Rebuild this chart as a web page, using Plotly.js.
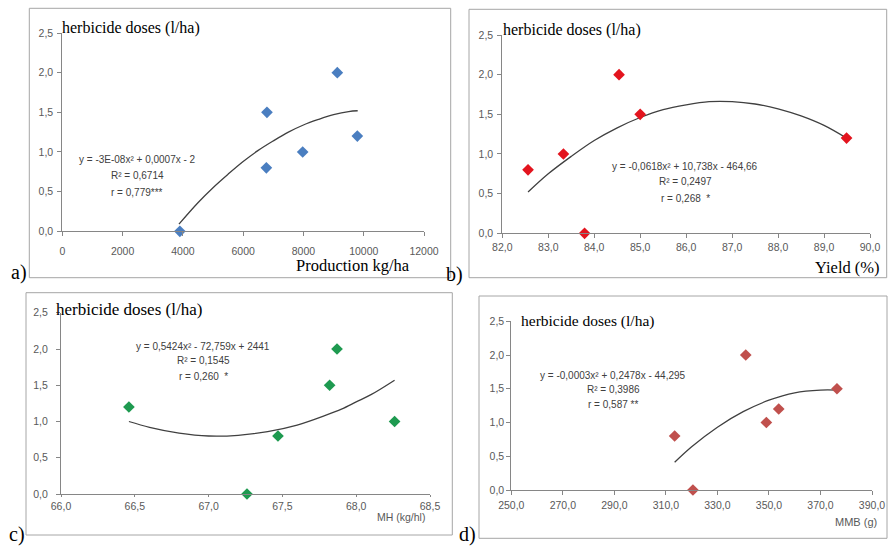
<!DOCTYPE html>
<html>
<head>
<meta charset="utf-8">
<script src="https://cdn.plot.ly/plotly-3.0.1.min.js"></script>
<style>html,body{margin:0;padding:0;background:#fff;}#chart{width:888px;height:547px;}</style>
</head>
<body>
<div id="chart"></div>
<script>
// ---- data ----
const aX = [3900, 6790, 6770, 7975, 9124, 9788];
const aY = [0, 1.5, 0.8, 1.0, 2.0, 1.2];
const aFitX = [3870, 4500, 5000, 5500, 6000, 6500, 7000, 7500, 8000, 8500, 9000, 9500, 9800];
const aFitY = [0.09, 0.36, 0.55, 0.72, 0.88, 1.02, 1.14, 1.25, 1.34, 1.41, 1.47, 1.51, 1.52];

const bX = [82.56, 83.33, 83.79, 84.54, 85.0, 89.49];
const bY = [0.8, 1.0, 0, 2.0, 1.5, 1.2];
const bFitX = [82.56, 83, 83.5, 84, 84.5, 85, 85.5, 86, 86.5, 87, 87.5, 88, 88.5, 89, 89.49];
const bFitY = [0.52, 0.75, 0.97, 1.17, 1.33, 1.46, 1.56, 1.62, 1.66, 1.66, 1.63, 1.57, 1.48, 1.36, 1.20];

const cX = [66.46, 67.26, 67.47, 67.82, 67.87, 68.26];
const cY = [1.2, 0, 0.8, 1.5, 2.0, 1.0];
const cFitX = [66.46, 66.6, 66.8, 67.0, 67.2, 67.4, 67.6, 67.8, 67.9, 68.0, 68.1, 68.26];
const cFitY = [1.00, 0.92, 0.84, 0.80, 0.81, 0.86, 0.95, 1.09, 1.17, 1.27, 1.37, 1.57];

const dX = [313.4, 320.5, 341.0, 349.0, 353.8, 376.4];
const dY = [0.8, 0, 2.0, 1.0, 1.2, 1.5];
const dFitX = [313.4, 320, 330, 340, 350, 360, 370, 376.4];
const dFitY = [0.41, 0.64, 0.93, 1.16, 1.33, 1.44, 1.48, 1.48];

const yTitle = "herbicide doses (l/ha)";
const eqA = ["y = -3E-08x² + 0,0007x - 2", "R² = 0,6714", "r = 0,779***"];
const eqB = ["y = -0,0618x² + 10,738x - 464,66", "R² = 0,2497", "r = 0,268  *"];
const eqC = ["y = 0,5424x² - 72,759x + 2441", "R² = 0,1545", "r = 0,260  *"];
const eqD = ["y = -0,0003x² + 0,2478x - 44,295", "R² = 0,3986", "r = 0,587 **"];
const xTitles = ["Production kg/ha", "Yield (%)", "MH (kg/hl)", "MMB (g)"];
const panelLabels = ["a)", "b)", "c)", "d)"];

// ---- layout helpers (pixel -> paper) ----
const W = 888, H = 547;
const px = v => v / W;
const py = v => 1 - v / H;

const colors = ["#4A7EC0", "#E3141E", "#1E9A50", "#C0504D"];
const fitColor = "#404040";
const sans = "Liberation Sans, Arial, sans-serif";
const tickFont = {family: sans, size: 10.5, color: "#595959"};
const serif = "Liberation Serif, Times New Roman, serif";

function pts(x, y, i) {
  const n = i === 0 ? "" : String(i + 1);
  return {x: x, y: y, xaxis: "x" + n, yaxis: "y" + n, type: "scatter", mode: "markers",
    marker: {symbol: "diamond", size: 9, color: colors[i], line: {width: 0}},
    cliponaxis: false, showlegend: false, hoverinfo: "skip"};
}
function fit(x, y, i) {
  const n = i === 0 ? "" : String(i + 1);
  return {x: x, y: y, xaxis: "x" + n, yaxis: "y" + n, type: "scatter", mode: "lines",
    line: {color: fitColor, width: 1.3, shape: "spline"},
    cliponaxis: false, showlegend: false, hoverinfo: "skip"};
}

const data = [
  fit(aFitX, aFitY, 0), pts(aX, aY, 0),
  fit(bFitX, bFitY, 1), pts(bX, bY, 1),
  fit(cFitX, cFitY, 2), pts(cX, cY, 2),
  fit(dFitX, dFitY, 3), pts(dX, dY, 3)
];

function xax(domain, range, dtick, fmt, anchor, standoff, tlen) {
  return {domain: domain, range: range, dtick: dtick, tick0: range[0], tickformat: fmt,
    showgrid: false, zeroline: false, showline: true, linecolor: "#868686", linewidth: 1,
    ticks: "outside", ticklen: tlen, tickcolor: "#868686", tickfont: tickFont, anchor: anchor,
    ticklabelstandoff: standoff, fixedrange: true};
}
function yax(domain, anchor, standoff) {
  return {domain: domain, range: [0, 2.5], dtick: 0.5, tick0: 0, tickformat: ".1f",
    showgrid: false, zeroline: false, showline: true, linecolor: "#868686", linewidth: 1,
    ticks: "outside", ticklen: 4, tickcolor: "#868686", tickfont: tickFont, anchor: anchor,
    ticklabelstandoff: standoff, fixedrange: true};
}

const layout = {
  width: W, height: H,
  margin: {l: 0, r: 0, t: 0, b: 0},
  paper_bgcolor: "#ffffff", plot_bgcolor: "rgba(0,0,0,0)",
  separators: ", ",
  showlegend: false,
  xaxis:  xax([px(62.3), px(424)], [0, 12000], 2000, "d", "y", 6, 4),
  yaxis:  yax([py(231.3), py(33)], "x", 2),
  xaxis2: xax([px(502.3), px(870)], [82, 90], 1, ".1f", "y2", 0, 4),
  yaxis2: yax([py(233.3), py(35)], "x2", 2),
  xaxis3: xax([px(61), px(430)], [66, 68.5], 0.5, ".1f", "y3", 0, 2),
  yaxis3: yax([py(494), py(312.75)], "x3", 6),
  xaxis4: xax([px(511.3), px(872)], [250, 390], 20, ".1f", "y4", 1, 4),
  yaxis4: yax([py(490), py(321.25)], "x4", 0),
  shapes: [],
  annotations: []
};

// panel borders
const boxes = [[29.3, 8.3, 450.7, 277.7], [469, 9.3, 886.7, 277.7], [26, 292.7, 452.3, 535], [479, 296, 887, 538.3]];
boxes.forEach(b => layout.shapes.push({type: "rect", xref: "paper", yref: "paper",
  x0: px(b[0]), x1: px(b[2]), y0: py(b[3]), y1: py(b[1]), line: {color: "#a6a6a6", width: 1}, layer: "below"}));

function ann(text, x, y, opts) {
  layout.annotations.push(Object.assign({text: text, xref: "paper", yref: "paper", x: px(x), y: py(y),
    showarrow: false, xanchor: "center", yanchor: "middle"}, opts));
}
// y titles
const yt = [[60, 28, 16], [501, 30, 16], [54, 309, 17], [519, 321, 15.5]];
yt.forEach(t => ann(yTitle, t[0], t[1], {xanchor: "left", font: {family: serif, size: t[2], color: "#000"}}));

// equations
const eqFont = {family: sans, size: 10, color: "#404040"};
const eqs = [[eqA, 137, [160, 175, 192.7]], [eqB, 685, [166.7, 181.3, 198.3]], [eqC, 203, [346.7, 360, 376.7]], [eqD, 613, [375, 389, 404.3]]];
eqs.forEach(e => e[0].forEach((line, k) => ann(line, e[1], e[2][k], {font: eqFont})));

// x titles
ann(xTitles[0], 353, 265, {font: {family: serif, size: 16.5, color: "#000"}});
ann(xTitles[1], 847, 268, {font: {family: serif, size: 16.5, color: "#000"}});
ann(xTitles[2], 401, 517, {font: {family: sans, size: 10.5, color: "#595959"}});
ann(xTitles[3], 856, 522, {font: {family: sans, size: 11, color: "#595959"}});

// panel labels
const pl = [[19, 272], [454, 274], [17, 534], [468, 534]];
pl.forEach((p, i) => ann(panelLabels[i], p[0], p[1], {font: {family: serif, size: 20, color: "#000"}}));

Plotly.newPlot("chart", data, layout, {staticPlot: true, displayModeBar: false});
</script>
</body>
</html>
